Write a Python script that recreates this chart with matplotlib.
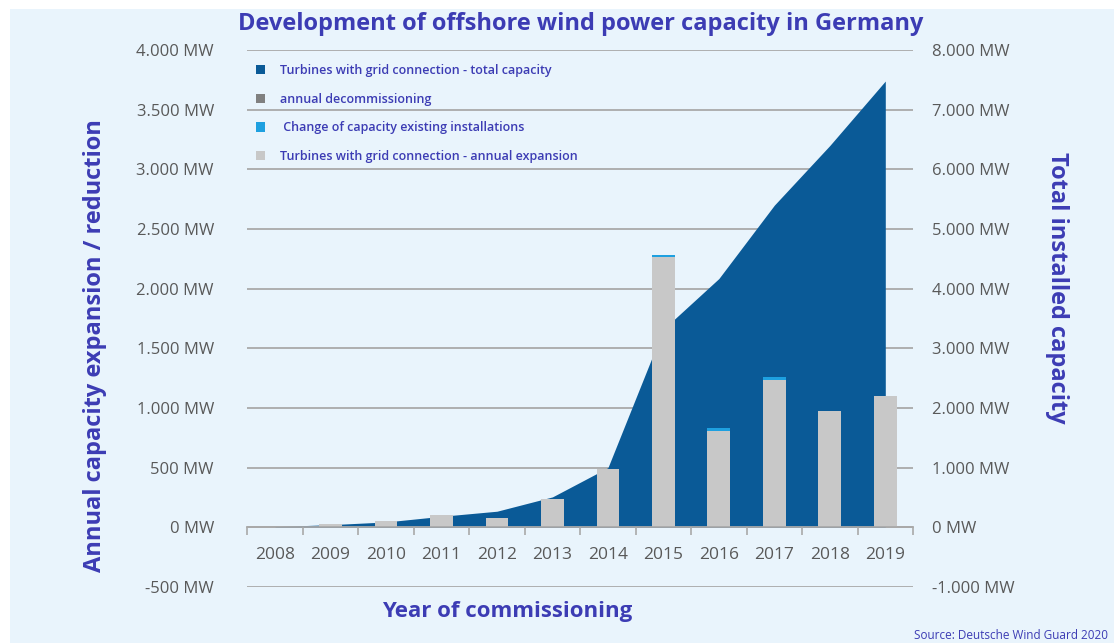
import numpy as np
import matplotlib.pyplot as plt
from matplotlib.patches import Rectangle
from matplotlib.ticker import FixedLocator, FuncFormatter

years = ["2008", "2009", "2010", "2011", "2012", "2013",
         "2014", "2015", "2016", "2017", "2018", "2019"]
# annual expansion, left axis (MW)
expansion = [5, 30, 50, 100, 80, 240, 490, 2265, 805, 1235, 975, 1100]
# change of capacity of existing installations (MW)
capacity_change = [0, 0, 0, 0, 0, 0, 0, 20, 25, 25, 0, 0]
# annual decommissioning (MW)
decommissioning = [0, 0, 0, 0, 0, 0, 0, 0, 0, 0, 0, 0]
# total installed capacity, right axis (MW)
total = [12, 45, 90, 185, 270, 510, 1000, 3320, 4170, 5400, 6400, 7480]

left_ticks = [-500, 0, 500, 1000, 1500, 2000, 2500, 3000, 3500, 4000]
right_ticks = [-1000, 0, 1000, 2000, 3000, 4000, 5000, 6000, 7000, 8000]

BG = "#e9f4fc"
BLUE_TXT = "#3c3cb4"
GREY_TXT = "#595959"
GRID = "#a9a9a9"

plt.rcParams["font.family"] = ["Open Sans", "DejaVu Sans"]

fig = plt.figure(figsize=(11.14, 6.43), dpi=100, facecolor="white")
fig.patches.append(Rectangle((10 / 1114, 0), 1, 1 - 9 / 643, transform=fig.transFigure,
                             facecolor=BG, edgecolor="none", zorder=-1))

ax = fig.add_axes([0.222, 0.0871, 0.5976, 0.8351])
ax2 = ax.twinx()
ax.set_zorder(ax2.get_zorder() + 1)
ax.patch.set_visible(False)
ax2.patch.set_visible(False)

x = np.arange(len(years))

# total capacity area on the right axis, under the bars
area = ax2.fill_between(x, 0, total, color="#0a5a97", lw=0, zorder=2,
                        label="Turbines with grid connection - total capacity")
ax2.set_ylim(-1000, 8000)
ax2.yaxis.set_major_locator(FixedLocator(right_ticks))
ax2.yaxis.grid(True, color=GRID, lw=1.3, zorder=1)
ax2.set_axisbelow(True)

fmt = FuncFormatter(lambda v, p: f"{int(v):,} MW".replace(",", "."))
ax2.yaxis.set_major_formatter(fmt)
ax2.tick_params(axis="y", length=0, pad=14, labelsize=12, labelcolor=GREY_TXT)

# annual bars on the left axis
w = 0.41
b_dec = ax.bar(x, decommissioning, w, color="#808080", lw=0,
               label="annual decommissioning")
b_exp = ax.bar(x, expansion, w, color="#c8c8c8", lw=0,
               label="Turbines with grid connection - annual expansion")
b_chg = ax.bar(x, capacity_change, w, bottom=expansion, color="#1ea0e0", lw=0,
               label=" Change of capacity existing installations")

ax.set_xlim(-0.5, len(years) - 0.5)
ax.set_ylim(-500, 4000)
ax.yaxis.set_major_locator(FixedLocator(left_ticks))
ax.yaxis.set_major_formatter(fmt)
ax.tick_params(axis="y", length=0, pad=24, labelsize=12, labelcolor=GREY_TXT)

for s in ["top", "left", "right"]:
    ax.spines[s].set_visible(False)
    ax2.spines[s].set_visible(False)
ax2.spines["bottom"].set_visible(False)
ax.spines["bottom"].set_position(("data", 0))
ax.spines["bottom"].set_color(GRID)
ax.spines["bottom"].set_linewidth(1.3)

ax.set_xticks(x)
ax.set_xticklabels(years)
ax.set_xticks(np.arange(len(years) + 1) - 0.5, minor=True)
ax.tick_params(axis="x", which="major", length=0, pad=14, labelsize=12.5, labelcolor=GREY_TXT)
ax.tick_params(axis="x", which="minor", length=6, width=1.2, color=GRID, direction="out")

leg = ax.legend(handles=[area, b_dec, b_chg, b_exp], loc="upper left",
                bbox_to_anchor=(0.0, 0.99), frameon=False, fontsize=9,
                handlelength=0.75, handleheight=0.75, handletextpad=1.2,
                labelspacing=1.25, borderaxespad=0.3)
for t in leg.get_texts():
    t.set_color(BLUE_TXT)
    t.set_fontweight("semibold")

fig.text(0.521, 0.963, "Development of offshore wind power capacity in Germany",
         ha="center", va="center", fontsize=17, fontweight="bold", color=BLUE_TXT)
fig.text(0.085, 0.463, "Annual capacity expansion / reduction", rotation=90,
         ha="center", va="center", fontsize=17, fontweight="bold", color=BLUE_TXT)
fig.text(0.949, 0.553, "Total installed capacity", rotation=270,
         ha="center", va="center", fontsize=17, fontweight="bold", color=BLUE_TXT)
fig.text(0.455, 0.049, "Year of commissioning", ha="center", va="center",
         fontsize=16, fontweight="bold", color=BLUE_TXT)
fig.text(0.995, 0.002, "Source: Deutsche Wind Guard 2020", ha="right", va="bottom",
         fontsize=8.5, color=BLUE_TXT)

fig.savefig("out.png", dpi=100, facecolor="white")
